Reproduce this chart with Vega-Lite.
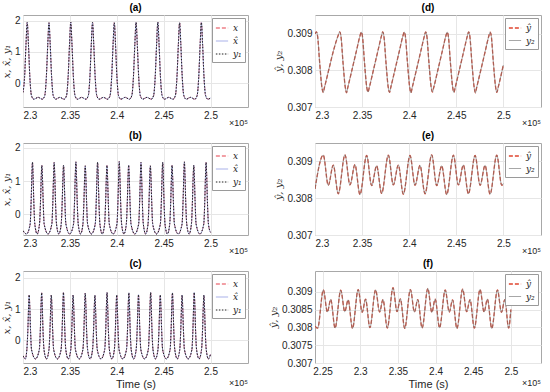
{
"$schema": "https://vega.github.io/schema/vega-lite/v6.json",
"background": "white",
"padding": {"left": 0, "top": 2, "right": 3, "bottom": 1},
"columns": 2,
"spacing": {"row": 1, "column": 18},
"resolve": {"scale": {"color": "independent", "strokeDash": "independent", "strokeWidth": "independent"}},
"datasets": {
"a": [
{"t":230000,"x":-0.3,"xh":-0.3,"y1":-0.3},{"t":230170,"x":0.2,"xh":0.2,"y1":0.2},{"t":230320,"x":1.25,"xh":1.25,"y1":1.25},{"t":230450,"x":1.95,"xh":1.95,"y1":1.95},{"t":230580,"x":1.25,"xh":1.25,"y1":1.25},{"t":230730,"x":0.2,"xh":0.2,"y1":0.2},{"t":230900,"x":-0.4,"xh":-0.4,"y1":-0.4},{"t":231150,"x":-0.52,"xh":-0.52,"y1":-0.52},{"t":231610,"x":-0.46,"xh":-0.46,"y1":-0.46},{"t":232070,"x":-0.52,"xh":-0.52,"y1":-0.52},
{"t":232322,"x":-0.4,"xh":-0.4,"y1":-0.4},{"t":232492,"x":0.2,"xh":0.2,"y1":0.2},{"t":232642,"x":1.25,"xh":1.25,"y1":1.25},{"t":232772,"x":1.94,"xh":1.94,"y1":1.94},{"t":232902,"x":1.25,"xh":1.25,"y1":1.25},{"t":233052,"x":0.2,"xh":0.2,"y1":0.2},{"t":233222,"x":-0.4,"xh":-0.4,"y1":-0.4},{"t":233472,"x":-0.52,"xh":-0.52,"y1":-0.52},{"t":233932,"x":-0.46,"xh":-0.46,"y1":-0.46},{"t":234392,"x":-0.52,"xh":-0.52,"y1":-0.52},
{"t":234644,"x":-0.4,"xh":-0.4,"y1":-0.4},{"t":234814,"x":0.2,"xh":0.2,"y1":0.2},{"t":234964,"x":1.25,"xh":1.25,"y1":1.25},{"t":235094,"x":1.96,"xh":1.96,"y1":1.96},{"t":235224,"x":1.25,"xh":1.25,"y1":1.25},{"t":235374,"x":0.2,"xh":0.2,"y1":0.2},{"t":235544,"x":-0.4,"xh":-0.4,"y1":-0.4},{"t":235794,"x":-0.52,"xh":-0.52,"y1":-0.52},{"t":236254,"x":-0.46,"xh":-0.46,"y1":-0.46},{"t":236714,"x":-0.52,"xh":-0.52,"y1":-0.52},
{"t":236966,"x":-0.4,"xh":-0.4,"y1":-0.4},{"t":237136,"x":0.2,"xh":0.2,"y1":0.2},{"t":237286,"x":1.25,"xh":1.25,"y1":1.25},{"t":237416,"x":1.95,"xh":1.95,"y1":1.95},{"t":237546,"x":1.25,"xh":1.25,"y1":1.25},{"t":237696,"x":0.2,"xh":0.2,"y1":0.2},{"t":237866,"x":-0.4,"xh":-0.4,"y1":-0.4},{"t":238116,"x":-0.52,"xh":-0.52,"y1":-0.52},{"t":238576,"x":-0.46,"xh":-0.46,"y1":-0.46},{"t":239036,"x":-0.52,"xh":-0.52,"y1":-0.52},
{"t":239288,"x":-0.4,"xh":-0.4,"y1":-0.4},{"t":239458,"x":0.2,"xh":0.2,"y1":0.2},{"t":239608,"x":1.25,"xh":1.25,"y1":1.25},{"t":239738,"x":1.94,"xh":1.94,"y1":1.94},{"t":239868,"x":1.25,"xh":1.25,"y1":1.25},{"t":240018,"x":0.2,"xh":0.2,"y1":0.2},{"t":240188,"x":-0.4,"xh":-0.4,"y1":-0.4},{"t":240438,"x":-0.52,"xh":-0.52,"y1":-0.52},{"t":240898,"x":-0.46,"xh":-0.46,"y1":-0.46},{"t":241358,"x":-0.52,"xh":-0.52,"y1":-0.52},
{"t":241610,"x":-0.4,"xh":-0.4,"y1":-0.4},{"t":241780,"x":0.2,"xh":0.2,"y1":0.2},{"t":241930,"x":1.25,"xh":1.25,"y1":1.25},{"t":242060,"x":1.95,"xh":1.95,"y1":1.95},{"t":242190,"x":1.25,"xh":1.25,"y1":1.25},{"t":242340,"x":0.2,"xh":0.2,"y1":0.2},{"t":242510,"x":-0.4,"xh":-0.4,"y1":-0.4},{"t":242760,"x":-0.52,"xh":-0.52,"y1":-0.52},{"t":243220,"x":-0.46,"xh":-0.46,"y1":-0.46},{"t":243680,"x":-0.52,"xh":-0.52,"y1":-0.52},
{"t":243932,"x":-0.4,"xh":-0.4,"y1":-0.4},{"t":244102,"x":0.2,"xh":0.2,"y1":0.2},{"t":244252,"x":1.25,"xh":1.25,"y1":1.25},{"t":244382,"x":1.96,"xh":1.96,"y1":1.96},{"t":244512,"x":1.25,"xh":1.25,"y1":1.25},{"t":244662,"x":0.2,"xh":0.2,"y1":0.2},{"t":244832,"x":-0.4,"xh":-0.4,"y1":-0.4},{"t":245082,"x":-0.52,"xh":-0.52,"y1":-0.52},{"t":245542,"x":-0.46,"xh":-0.46,"y1":-0.46},{"t":246002,"x":-0.52,"xh":-0.52,"y1":-0.52},
{"t":246254,"x":-0.4,"xh":-0.4,"y1":-0.4},{"t":246424,"x":0.2,"xh":0.2,"y1":0.2},{"t":246574,"x":1.25,"xh":1.25,"y1":1.25},{"t":246704,"x":1.94,"xh":1.94,"y1":1.94},{"t":246834,"x":1.25,"xh":1.25,"y1":1.25},{"t":246984,"x":0.2,"xh":0.2,"y1":0.2},{"t":247154,"x":-0.4,"xh":-0.4,"y1":-0.4},{"t":247404,"x":-0.52,"xh":-0.52,"y1":-0.52},{"t":247864,"x":-0.46,"xh":-0.46,"y1":-0.46},{"t":248324,"x":-0.52,"xh":-0.52,"y1":-0.52},
{"t":248576,"x":-0.4,"xh":-0.4,"y1":-0.4},{"t":248746,"x":0.2,"xh":0.2,"y1":0.2},{"t":248896,"x":1.25,"xh":1.25,"y1":1.25},{"t":249026,"x":1.95,"xh":1.95,"y1":1.95},{"t":249156,"x":1.25,"xh":1.25,"y1":1.25},{"t":249306,"x":0.2,"xh":0.2,"y1":0.2},{"t":249476,"x":-0.4,"xh":-0.4,"y1":-0.4},{"t":249726,"x":-0.52,"xh":-0.52,"y1":-0.52},{"t":250000,"x":-0.48,"xh":-0.48,"y1":-0.48}
],
"b": [
{"t":230000,"x":-0.5,"xh":-0.5,"y1":-0.5},{"t":230380,"x":-0.6,"xh":-0.6,"y1":-0.6},
{"t":230760,"x":-0.3,"xh":-0.3,"y1":-0.3},{"t":230870,"x":0.4,"xh":0.4,"y1":0.4},{"t":230950,"x":1.2,"xh":1.2,"y1":1.2},{"t":231010,"x":1.57,"xh":1.57,"y1":1.57},{"t":231070,"x":1.2,"xh":1.2,"y1":1.2},{"t":231150,"x":0.4,"xh":0.4,"y1":0.4},{"t":231260,"x":-0.3,"xh":-0.3,"y1":-0.3},{"t":231510,"x":-0.6,"xh":-0.6,"y1":-0.6},
{"t":231760,"x":-0.3,"xh":-0.3,"y1":-0.3},{"t":231870,"x":0.4,"xh":0.4,"y1":0.4},{"t":231950,"x":1.15,"xh":1.15,"y1":1.15},{"t":232010,"x":1.47,"xh":1.47,"y1":1.47},{"t":232070,"x":1.15,"xh":1.15,"y1":1.15},{"t":232150,"x":0.4,"xh":0.4,"y1":0.4},{"t":232260,"x":-0.3,"xh":-0.3,"y1":-0.3},{"t":232667,"x":-0.6,"xh":-0.6,"y1":-0.6},
{"t":233075,"x":-0.3,"xh":-0.3,"y1":-0.3},{"t":233185,"x":0.4,"xh":0.4,"y1":0.4},{"t":233265,"x":1.2,"xh":1.2,"y1":1.2},{"t":233325,"x":1.56,"xh":1.56,"y1":1.56},{"t":233385,"x":1.2,"xh":1.2,"y1":1.2},{"t":233465,"x":0.4,"xh":0.4,"y1":0.4},{"t":233575,"x":-0.3,"xh":-0.3,"y1":-0.3},{"t":233825,"x":-0.6,"xh":-0.6,"y1":-0.6},
{"t":234075,"x":-0.3,"xh":-0.3,"y1":-0.3},{"t":234185,"x":0.4,"xh":0.4,"y1":0.4},{"t":234265,"x":1.15,"xh":1.15,"y1":1.15},{"t":234325,"x":1.48,"xh":1.48,"y1":1.48},{"t":234385,"x":1.15,"xh":1.15,"y1":1.15},{"t":234465,"x":0.4,"xh":0.4,"y1":0.4},{"t":234575,"x":-0.3,"xh":-0.3,"y1":-0.3},{"t":234982,"x":-0.6,"xh":-0.6,"y1":-0.6},
{"t":235390,"x":-0.3,"xh":-0.3,"y1":-0.3},{"t":235500,"x":0.4,"xh":0.4,"y1":0.4},{"t":235580,"x":1.2,"xh":1.2,"y1":1.2},{"t":235640,"x":1.58,"xh":1.58,"y1":1.58},{"t":235700,"x":1.2,"xh":1.2,"y1":1.2},{"t":235780,"x":0.4,"xh":0.4,"y1":0.4},{"t":235890,"x":-0.3,"xh":-0.3,"y1":-0.3},{"t":236140,"x":-0.6,"xh":-0.6,"y1":-0.6},
{"t":236390,"x":-0.3,"xh":-0.3,"y1":-0.3},{"t":236500,"x":0.4,"xh":0.4,"y1":0.4},{"t":236580,"x":1.15,"xh":1.15,"y1":1.15},{"t":236640,"x":1.46,"xh":1.46,"y1":1.46},{"t":236700,"x":1.15,"xh":1.15,"y1":1.15},{"t":236780,"x":0.4,"xh":0.4,"y1":0.4},{"t":236890,"x":-0.3,"xh":-0.3,"y1":-0.3},{"t":237297,"x":-0.6,"xh":-0.6,"y1":-0.6},
{"t":237705,"x":-0.3,"xh":-0.3,"y1":-0.3},{"t":237815,"x":0.4,"xh":0.4,"y1":0.4},{"t":237895,"x":1.2,"xh":1.2,"y1":1.2},{"t":237955,"x":1.57,"xh":1.57,"y1":1.57},{"t":238015,"x":1.2,"xh":1.2,"y1":1.2},{"t":238095,"x":0.4,"xh":0.4,"y1":0.4},{"t":238205,"x":-0.3,"xh":-0.3,"y1":-0.3},{"t":238455,"x":-0.6,"xh":-0.6,"y1":-0.6},
{"t":238705,"x":-0.3,"xh":-0.3,"y1":-0.3},{"t":238815,"x":0.4,"xh":0.4,"y1":0.4},{"t":238895,"x":1.15,"xh":1.15,"y1":1.15},{"t":238955,"x":1.47,"xh":1.47,"y1":1.47},{"t":239015,"x":1.15,"xh":1.15,"y1":1.15},{"t":239095,"x":0.4,"xh":0.4,"y1":0.4},{"t":239205,"x":-0.3,"xh":-0.3,"y1":-0.3},{"t":239612,"x":-0.6,"xh":-0.6,"y1":-0.6},
{"t":240020,"x":-0.3,"xh":-0.3,"y1":-0.3},{"t":240130,"x":0.4,"xh":0.4,"y1":0.4},{"t":240210,"x":1.2,"xh":1.2,"y1":1.2},{"t":240270,"x":1.59,"xh":1.59,"y1":1.59},{"t":240330,"x":1.2,"xh":1.2,"y1":1.2},{"t":240410,"x":0.4,"xh":0.4,"y1":0.4},{"t":240520,"x":-0.3,"xh":-0.3,"y1":-0.3},{"t":240770,"x":-0.6,"xh":-0.6,"y1":-0.6},
{"t":241020,"x":-0.3,"xh":-0.3,"y1":-0.3},{"t":241130,"x":0.4,"xh":0.4,"y1":0.4},{"t":241210,"x":1.15,"xh":1.15,"y1":1.15},{"t":241270,"x":1.48,"xh":1.48,"y1":1.48},{"t":241330,"x":1.15,"xh":1.15,"y1":1.15},{"t":241410,"x":0.4,"xh":0.4,"y1":0.4},{"t":241520,"x":-0.3,"xh":-0.3,"y1":-0.3},{"t":241927,"x":-0.6,"xh":-0.6,"y1":-0.6},
{"t":242335,"x":-0.3,"xh":-0.3,"y1":-0.3},{"t":242445,"x":0.4,"xh":0.4,"y1":0.4},{"t":242525,"x":1.2,"xh":1.2,"y1":1.2},{"t":242585,"x":1.56,"xh":1.56,"y1":1.56},{"t":242645,"x":1.2,"xh":1.2,"y1":1.2},{"t":242725,"x":0.4,"xh":0.4,"y1":0.4},{"t":242835,"x":-0.3,"xh":-0.3,"y1":-0.3},{"t":243085,"x":-0.6,"xh":-0.6,"y1":-0.6},
{"t":243335,"x":-0.3,"xh":-0.3,"y1":-0.3},{"t":243445,"x":0.4,"xh":0.4,"y1":0.4},{"t":243525,"x":1.15,"xh":1.15,"y1":1.15},{"t":243585,"x":1.46,"xh":1.46,"y1":1.46},{"t":243645,"x":1.15,"xh":1.15,"y1":1.15},{"t":243725,"x":0.4,"xh":0.4,"y1":0.4},{"t":243835,"x":-0.3,"xh":-0.3,"y1":-0.3},{"t":244242,"x":-0.6,"xh":-0.6,"y1":-0.6},
{"t":244650,"x":-0.3,"xh":-0.3,"y1":-0.3},{"t":244760,"x":0.4,"xh":0.4,"y1":0.4},{"t":244840,"x":1.2,"xh":1.2,"y1":1.2},{"t":244900,"x":1.57,"xh":1.57,"y1":1.57},{"t":244960,"x":1.2,"xh":1.2,"y1":1.2},{"t":245040,"x":0.4,"xh":0.4,"y1":0.4},{"t":245150,"x":-0.3,"xh":-0.3,"y1":-0.3},{"t":245400,"x":-0.6,"xh":-0.6,"y1":-0.6},
{"t":245650,"x":-0.3,"xh":-0.3,"y1":-0.3},{"t":245760,"x":0.4,"xh":0.4,"y1":0.4},{"t":245840,"x":1.15,"xh":1.15,"y1":1.15},{"t":245900,"x":1.47,"xh":1.47,"y1":1.47},{"t":245960,"x":1.15,"xh":1.15,"y1":1.15},{"t":246040,"x":0.4,"xh":0.4,"y1":0.4},{"t":246150,"x":-0.3,"xh":-0.3,"y1":-0.3},{"t":246557,"x":-0.6,"xh":-0.6,"y1":-0.6},
{"t":246965,"x":-0.3,"xh":-0.3,"y1":-0.3},{"t":247075,"x":0.4,"xh":0.4,"y1":0.4},{"t":247155,"x":1.2,"xh":1.2,"y1":1.2},{"t":247215,"x":1.58,"xh":1.58,"y1":1.58},{"t":247275,"x":1.2,"xh":1.2,"y1":1.2},{"t":247355,"x":0.4,"xh":0.4,"y1":0.4},{"t":247465,"x":-0.3,"xh":-0.3,"y1":-0.3},{"t":247715,"x":-0.6,"xh":-0.6,"y1":-0.6},
{"t":247965,"x":-0.3,"xh":-0.3,"y1":-0.3},{"t":248075,"x":0.4,"xh":0.4,"y1":0.4},{"t":248155,"x":1.15,"xh":1.15,"y1":1.15},{"t":248215,"x":1.48,"xh":1.48,"y1":1.48},{"t":248275,"x":1.15,"xh":1.15,"y1":1.15},{"t":248355,"x":0.4,"xh":0.4,"y1":0.4},{"t":248465,"x":-0.3,"xh":-0.3,"y1":-0.3},{"t":248872,"x":-0.6,"xh":-0.6,"y1":-0.6},
{"t":249280,"x":-0.3,"xh":-0.3,"y1":-0.3},{"t":249390,"x":0.4,"xh":0.4,"y1":0.4},{"t":249470,"x":1.2,"xh":1.2,"y1":1.2},{"t":249530,"x":1.56,"xh":1.56,"y1":1.56},{"t":249590,"x":1.2,"xh":1.2,"y1":1.2},{"t":249670,"x":0.4,"xh":0.4,"y1":0.4},{"t":249780,"x":-0.3,"xh":-0.3,"y1":-0.3},{"t":250000,"x":-0.55,"xh":-0.55,"y1":-0.55}
],
"c": [
{"t":230000,"x":-0.5,"xh":-0.5,"y1":-0.5},{"t":230250,"x":-0.6,"xh":-0.6,"y1":-0.6},
{"t":230410,"x":-0.3,"xh":-0.3,"y1":-0.3},{"t":230520,"x":0.35,"xh":0.35,"y1":0.35},{"t":230600,"x":1.1,"xh":1.1,"y1":1.1},{"t":230660,"x":1.45,"xh":1.45,"y1":1.45},{"t":230720,"x":1.1,"xh":1.1,"y1":1.1},{"t":230800,"x":0.35,"xh":0.35,"y1":0.35},{"t":230910,"x":-0.3,"xh":-0.3,"y1":-0.3},{"t":231325,"x":-0.6,"xh":-0.6,"y1":-0.6},
{"t":231740,"x":-0.3,"xh":-0.3,"y1":-0.3},{"t":231850,"x":0.35,"xh":0.35,"y1":0.35},{"t":231930,"x":1.15,"xh":1.15,"y1":1.15},{"t":231990,"x":1.52,"xh":1.52,"y1":1.52},{"t":232050,"x":1.15,"xh":1.15,"y1":1.15},{"t":232130,"x":0.35,"xh":0.35,"y1":0.35},{"t":232240,"x":-0.3,"xh":-0.3,"y1":-0.3},{"t":232505,"x":-0.6,"xh":-0.6,"y1":-0.6},
{"t":232770,"x":-0.3,"xh":-0.3,"y1":-0.3},{"t":232880,"x":0.35,"xh":0.35,"y1":0.35},{"t":232960,"x":1.1,"xh":1.1,"y1":1.1},{"t":233020,"x":1.45,"xh":1.45,"y1":1.45},{"t":233080,"x":1.1,"xh":1.1,"y1":1.1},{"t":233160,"x":0.35,"xh":0.35,"y1":0.35},{"t":233270,"x":-0.3,"xh":-0.3,"y1":-0.3},{"t":233668,"x":-0.6,"xh":-0.6,"y1":-0.6},
{"t":234065,"x":-0.3,"xh":-0.3,"y1":-0.3},{"t":234175,"x":0.35,"xh":0.35,"y1":0.35},{"t":234255,"x":1.15,"xh":1.15,"y1":1.15},{"t":234315,"x":1.53,"xh":1.53,"y1":1.53},{"t":234375,"x":1.15,"xh":1.15,"y1":1.15},{"t":234455,"x":0.35,"xh":0.35,"y1":0.35},{"t":234565,"x":-0.3,"xh":-0.3,"y1":-0.3},{"t":234830,"x":-0.6,"xh":-0.6,"y1":-0.6},
{"t":235095,"x":-0.3,"xh":-0.3,"y1":-0.3},{"t":235205,"x":0.35,"xh":0.35,"y1":0.35},{"t":235285,"x":1.1,"xh":1.1,"y1":1.1},{"t":235345,"x":1.45,"xh":1.45,"y1":1.45},{"t":235405,"x":1.1,"xh":1.1,"y1":1.1},{"t":235485,"x":0.35,"xh":0.35,"y1":0.35},{"t":235595,"x":-0.3,"xh":-0.3,"y1":-0.3},{"t":235993,"x":-0.6,"xh":-0.6,"y1":-0.6},
{"t":236390,"x":-0.3,"xh":-0.3,"y1":-0.3},{"t":236500,"x":0.35,"xh":0.35,"y1":0.35},{"t":236580,"x":1.15,"xh":1.15,"y1":1.15},{"t":236640,"x":1.51,"xh":1.51,"y1":1.51},{"t":236700,"x":1.15,"xh":1.15,"y1":1.15},{"t":236780,"x":0.35,"xh":0.35,"y1":0.35},{"t":236890,"x":-0.3,"xh":-0.3,"y1":-0.3},{"t":237155,"x":-0.6,"xh":-0.6,"y1":-0.6},
{"t":237420,"x":-0.3,"xh":-0.3,"y1":-0.3},{"t":237530,"x":0.35,"xh":0.35,"y1":0.35},{"t":237610,"x":1.1,"xh":1.1,"y1":1.1},{"t":237670,"x":1.44,"xh":1.44,"y1":1.44},{"t":237730,"x":1.1,"xh":1.1,"y1":1.1},{"t":237810,"x":0.35,"xh":0.35,"y1":0.35},{"t":237920,"x":-0.3,"xh":-0.3,"y1":-0.3},{"t":238318,"x":-0.6,"xh":-0.6,"y1":-0.6},
{"t":238715,"x":-0.3,"xh":-0.3,"y1":-0.3},{"t":238825,"x":0.35,"xh":0.35,"y1":0.35},{"t":238905,"x":1.15,"xh":1.15,"y1":1.15},{"t":238965,"x":1.53,"xh":1.53,"y1":1.53},{"t":239025,"x":1.15,"xh":1.15,"y1":1.15},{"t":239105,"x":0.35,"xh":0.35,"y1":0.35},{"t":239215,"x":-0.3,"xh":-0.3,"y1":-0.3},{"t":239480,"x":-0.6,"xh":-0.6,"y1":-0.6},
{"t":239745,"x":-0.3,"xh":-0.3,"y1":-0.3},{"t":239855,"x":0.35,"xh":0.35,"y1":0.35},{"t":239935,"x":1.1,"xh":1.1,"y1":1.1},{"t":239995,"x":1.45,"xh":1.45,"y1":1.45},{"t":240055,"x":1.1,"xh":1.1,"y1":1.1},{"t":240135,"x":0.35,"xh":0.35,"y1":0.35},{"t":240245,"x":-0.3,"xh":-0.3,"y1":-0.3},{"t":240643,"x":-0.6,"xh":-0.6,"y1":-0.6},
{"t":241040,"x":-0.3,"xh":-0.3,"y1":-0.3},{"t":241150,"x":0.35,"xh":0.35,"y1":0.35},{"t":241230,"x":1.15,"xh":1.15,"y1":1.15},{"t":241290,"x":1.52,"xh":1.52,"y1":1.52},{"t":241350,"x":1.15,"xh":1.15,"y1":1.15},{"t":241430,"x":0.35,"xh":0.35,"y1":0.35},{"t":241540,"x":-0.3,"xh":-0.3,"y1":-0.3},{"t":241805,"x":-0.6,"xh":-0.6,"y1":-0.6},
{"t":242070,"x":-0.3,"xh":-0.3,"y1":-0.3},{"t":242180,"x":0.35,"xh":0.35,"y1":0.35},{"t":242260,"x":1.1,"xh":1.1,"y1":1.1},{"t":242320,"x":1.46,"xh":1.46,"y1":1.46},{"t":242380,"x":1.1,"xh":1.1,"y1":1.1},{"t":242460,"x":0.35,"xh":0.35,"y1":0.35},{"t":242570,"x":-0.3,"xh":-0.3,"y1":-0.3},{"t":242968,"x":-0.6,"xh":-0.6,"y1":-0.6},
{"t":243365,"x":-0.3,"xh":-0.3,"y1":-0.3},{"t":243475,"x":0.35,"xh":0.35,"y1":0.35},{"t":243555,"x":1.15,"xh":1.15,"y1":1.15},{"t":243615,"x":1.53,"xh":1.53,"y1":1.53},{"t":243675,"x":1.15,"xh":1.15,"y1":1.15},{"t":243755,"x":0.35,"xh":0.35,"y1":0.35},{"t":243865,"x":-0.3,"xh":-0.3,"y1":-0.3},{"t":244130,"x":-0.6,"xh":-0.6,"y1":-0.6},
{"t":244395,"x":-0.3,"xh":-0.3,"y1":-0.3},{"t":244505,"x":0.35,"xh":0.35,"y1":0.35},{"t":244585,"x":1.1,"xh":1.1,"y1":1.1},{"t":244645,"x":1.45,"xh":1.45,"y1":1.45},{"t":244705,"x":1.1,"xh":1.1,"y1":1.1},{"t":244785,"x":0.35,"xh":0.35,"y1":0.35},{"t":244895,"x":-0.3,"xh":-0.3,"y1":-0.3},{"t":245293,"x":-0.6,"xh":-0.6,"y1":-0.6},
{"t":245690,"x":-0.3,"xh":-0.3,"y1":-0.3},{"t":245800,"x":0.35,"xh":0.35,"y1":0.35},{"t":245880,"x":1.15,"xh":1.15,"y1":1.15},{"t":245940,"x":1.52,"xh":1.52,"y1":1.52},{"t":246000,"x":1.15,"xh":1.15,"y1":1.15},{"t":246080,"x":0.35,"xh":0.35,"y1":0.35},{"t":246190,"x":-0.3,"xh":-0.3,"y1":-0.3},{"t":246455,"x":-0.6,"xh":-0.6,"y1":-0.6},
{"t":246720,"x":-0.3,"xh":-0.3,"y1":-0.3},{"t":246830,"x":0.35,"xh":0.35,"y1":0.35},{"t":246910,"x":1.1,"xh":1.1,"y1":1.1},{"t":246970,"x":1.45,"xh":1.45,"y1":1.45},{"t":247030,"x":1.1,"xh":1.1,"y1":1.1},{"t":247110,"x":0.35,"xh":0.35,"y1":0.35},{"t":247220,"x":-0.3,"xh":-0.3,"y1":-0.3},{"t":247618,"x":-0.6,"xh":-0.6,"y1":-0.6},
{"t":248015,"x":-0.3,"xh":-0.3,"y1":-0.3},{"t":248125,"x":0.35,"xh":0.35,"y1":0.35},{"t":248205,"x":1.15,"xh":1.15,"y1":1.15},{"t":248265,"x":1.53,"xh":1.53,"y1":1.53},{"t":248325,"x":1.15,"xh":1.15,"y1":1.15},{"t":248405,"x":0.35,"xh":0.35,"y1":0.35},{"t":248515,"x":-0.3,"xh":-0.3,"y1":-0.3},{"t":248780,"x":-0.6,"xh":-0.6,"y1":-0.6},
{"t":249045,"x":-0.3,"xh":-0.3,"y1":-0.3},{"t":249155,"x":0.35,"xh":0.35,"y1":0.35},{"t":249235,"x":1.1,"xh":1.1,"y1":1.1},{"t":249295,"x":1.45,"xh":1.45,"y1":1.45},{"t":249355,"x":1.1,"xh":1.1,"y1":1.1},{"t":249435,"x":0.35,"xh":0.35,"y1":0.35},{"t":249545,"x":-0.3,"xh":-0.3,"y1":-0.3},{"t":249780,"x":-0.6,"xh":-0.6,"y1":-0.6},{"t":250000,"x":-0.45,"xh":-0.45,"y1":-0.45}
],
"d": [
{"t":230000,"yh":0.30900,"y2":0.30900},{"t":230150,"yh":0.30906,"y2":0.30906},{"t":230270,"yh":0.30895,"y2":0.30895},{"t":230500,"yh":0.30820,"y2":0.30820},{"t":230730,"yh":0.30755,"y2":0.30755},{"t":230870,"yh":0.30740,"y2":0.30740},{"t":230990,"yh":0.30752,"y2":0.30752},{"t":231500,"yh":0.30806,"y2":0.30806},{"t":232000,"yh":0.30858,"y2":0.30858},{"t":232450,"yh":0.30895,"y2":0.30895},
{"t":232630,"yh":0.30906,"y2":0.30906},{"t":232750,"yh":0.30895,"y2":0.30895},{"t":232980,"yh":0.30820,"y2":0.30820},{"t":233210,"yh":0.30755,"y2":0.30755},{"t":233350,"yh":0.30739,"y2":0.30739},{"t":233470,"yh":0.30752,"y2":0.30752},{"t":233930,"yh":0.30802,"y2":0.30802},{"t":234430,"yh":0.30857,"y2":0.30857},{"t":234780,"yh":0.30895,"y2":0.30895},
{"t":234911,"yh":0.30905,"y2":0.30905},{"t":235031,"yh":0.30895,"y2":0.30895},{"t":235261,"yh":0.30820,"y2":0.30820},{"t":235491,"yh":0.30755,"y2":0.30755},{"t":235631,"yh":0.30741,"y2":0.30741},{"t":235751,"yh":0.30752,"y2":0.30752},{"t":236211,"yh":0.30802,"y2":0.30802},{"t":236711,"yh":0.30857,"y2":0.30857},{"t":237061,"yh":0.30895,"y2":0.30895},
{"t":237192,"yh":0.30906,"y2":0.30906},{"t":237312,"yh":0.30895,"y2":0.30895},{"t":237542,"yh":0.30820,"y2":0.30820},{"t":237772,"yh":0.30755,"y2":0.30755},{"t":237912,"yh":0.30740,"y2":0.30740},{"t":238032,"yh":0.30752,"y2":0.30752},{"t":238492,"yh":0.30802,"y2":0.30802},{"t":238992,"yh":0.30857,"y2":0.30857},{"t":239342,"yh":0.30895,"y2":0.30895},
{"t":239473,"yh":0.30905,"y2":0.30905},{"t":239593,"yh":0.30895,"y2":0.30895},{"t":239823,"yh":0.30820,"y2":0.30820},{"t":240053,"yh":0.30755,"y2":0.30755},{"t":240193,"yh":0.30739,"y2":0.30739},{"t":240313,"yh":0.30752,"y2":0.30752},{"t":240773,"yh":0.30802,"y2":0.30802},{"t":241273,"yh":0.30857,"y2":0.30857},{"t":241623,"yh":0.30895,"y2":0.30895},
{"t":241754,"yh":0.30906,"y2":0.30906},{"t":241874,"yh":0.30895,"y2":0.30895},{"t":242104,"yh":0.30820,"y2":0.30820},{"t":242334,"yh":0.30755,"y2":0.30755},{"t":242474,"yh":0.30741,"y2":0.30741},{"t":242594,"yh":0.30752,"y2":0.30752},{"t":243054,"yh":0.30802,"y2":0.30802},{"t":243554,"yh":0.30857,"y2":0.30857},{"t":243904,"yh":0.30895,"y2":0.30895},
{"t":244035,"yh":0.30905,"y2":0.30905},{"t":244155,"yh":0.30895,"y2":0.30895},{"t":244385,"yh":0.30820,"y2":0.30820},{"t":244615,"yh":0.30755,"y2":0.30755},{"t":244755,"yh":0.30740,"y2":0.30740},{"t":244875,"yh":0.30752,"y2":0.30752},{"t":245335,"yh":0.30802,"y2":0.30802},{"t":245835,"yh":0.30857,"y2":0.30857},{"t":246185,"yh":0.30895,"y2":0.30895},
{"t":246316,"yh":0.30906,"y2":0.30906},{"t":246436,"yh":0.30895,"y2":0.30895},{"t":246666,"yh":0.30820,"y2":0.30820},{"t":246896,"yh":0.30755,"y2":0.30755},{"t":247036,"yh":0.30739,"y2":0.30739},{"t":247156,"yh":0.30752,"y2":0.30752},{"t":247616,"yh":0.30802,"y2":0.30802},{"t":248116,"yh":0.30857,"y2":0.30857},{"t":248466,"yh":0.30895,"y2":0.30895},
{"t":248597,"yh":0.30905,"y2":0.30905},{"t":248717,"yh":0.30895,"y2":0.30895},{"t":248947,"yh":0.30820,"y2":0.30820},{"t":249177,"yh":0.30755,"y2":0.30755},{"t":249317,"yh":0.30740,"y2":0.30740},{"t":249437,"yh":0.30752,"y2":0.30752},{"t":250000,"yh":0.30815,"y2":0.30815}
],
"e": [
{"t":230000,"yh":0.30825,"y2":0.30825},
{"t":230880,"yh":0.30917,"y2":0.30917},{"t":231410,"yh":0.30835,"y2":0.30835},{"t":231940,"yh":0.30890,"y2":0.30890},{"t":232470,"yh":0.30812,"y2":0.30812},
{"t":233183,"yh":0.30918,"y2":0.30918},{"t":233713,"yh":0.30836,"y2":0.30836},{"t":234243,"yh":0.30891,"y2":0.30891},{"t":234773,"yh":0.30810,"y2":0.30810},
{"t":235486,"yh":0.30916,"y2":0.30916},{"t":236016,"yh":0.30834,"y2":0.30834},{"t":236546,"yh":0.30888,"y2":0.30888},{"t":237076,"yh":0.30813,"y2":0.30813},
{"t":237789,"yh":0.30917,"y2":0.30917},{"t":238319,"yh":0.30836,"y2":0.30836},{"t":238849,"yh":0.30890,"y2":0.30890},{"t":239379,"yh":0.30811,"y2":0.30811},
{"t":240092,"yh":0.30916,"y2":0.30916},{"t":240622,"yh":0.30835,"y2":0.30835},{"t":241152,"yh":0.30889,"y2":0.30889},{"t":241682,"yh":0.30812,"y2":0.30812},
{"t":242395,"yh":0.30918,"y2":0.30918},{"t":242925,"yh":0.30834,"y2":0.30834},{"t":243455,"yh":0.30888,"y2":0.30888},{"t":243985,"yh":0.30810,"y2":0.30810},
{"t":244698,"yh":0.30917,"y2":0.30917},{"t":245228,"yh":0.30836,"y2":0.30836},{"t":245758,"yh":0.30890,"y2":0.30890},{"t":246288,"yh":0.30812,"y2":0.30812},
{"t":247001,"yh":0.30916,"y2":0.30916},{"t":247531,"yh":0.30835,"y2":0.30835},{"t":248061,"yh":0.30889,"y2":0.30889},{"t":248591,"yh":0.30811,"y2":0.30811},
{"t":249304,"yh":0.30917,"y2":0.30917},{"t":249834,"yh":0.30835,"y2":0.30835},{"t":250000,"yh":0.30840,"y2":0.30840}
],
"f": [
{"t":224000,"yh":0.30803,"y2":0.30803},{"t":224350,"yh":0.30798,"y2":0.30798},
{"t":225111,"yh":0.30905,"y2":0.30905},{"t":225644,"yh":0.30843,"y2":0.30843},{"t":226089,"yh":0.30878,"y2":0.30878},{"t":226666,"yh":0.30798,"y2":0.30798},
{"t":227422,"yh":0.30904,"y2":0.30904},{"t":227955,"yh":0.30844,"y2":0.30844},{"t":228400,"yh":0.30877,"y2":0.30877},{"t":228977,"yh":0.30797,"y2":0.30797},
{"t":229733,"yh":0.30906,"y2":0.30906},{"t":230266,"yh":0.30842,"y2":0.30842},{"t":230711,"yh":0.30879,"y2":0.30879},{"t":231288,"yh":0.30799,"y2":0.30799},
{"t":232044,"yh":0.30905,"y2":0.30905},{"t":232577,"yh":0.30843,"y2":0.30843},{"t":233022,"yh":0.30878,"y2":0.30878},{"t":233599,"yh":0.30798,"y2":0.30798},
{"t":234355,"yh":0.30911,"y2":0.30911},{"t":234888,"yh":0.30844,"y2":0.30844},{"t":235333,"yh":0.30880,"y2":0.30880},{"t":235910,"yh":0.30797,"y2":0.30797},
{"t":236666,"yh":0.30906,"y2":0.30906},{"t":237199,"yh":0.30843,"y2":0.30843},{"t":237644,"yh":0.30878,"y2":0.30878},{"t":238221,"yh":0.30798,"y2":0.30798},
{"t":238977,"yh":0.30909,"y2":0.30909},{"t":239510,"yh":0.30842,"y2":0.30842},{"t":239955,"yh":0.30879,"y2":0.30879},{"t":240532,"yh":0.30799,"y2":0.30799},
{"t":241288,"yh":0.30905,"y2":0.30905},{"t":241821,"yh":0.30843,"y2":0.30843},{"t":242266,"yh":0.30877,"y2":0.30877},{"t":242843,"yh":0.30797,"y2":0.30797},
{"t":243599,"yh":0.30907,"y2":0.30907},{"t":244132,"yh":0.30844,"y2":0.30844},{"t":244577,"yh":0.30878,"y2":0.30878},{"t":245154,"yh":0.30798,"y2":0.30798},
{"t":245910,"yh":0.30906,"y2":0.30906},{"t":246443,"yh":0.30843,"y2":0.30843},{"t":246888,"yh":0.30879,"y2":0.30879},{"t":247465,"yh":0.30797,"y2":0.30797},
{"t":248221,"yh":0.30905,"y2":0.30905},{"t":248754,"yh":0.30842,"y2":0.30842},{"t":249199,"yh":0.30878,"y2":0.30878},{"t":249700,"yh":0.30798,"y2":0.30798},{"t":250000,"yh":0.30850,"y2":0.30850}
],
"one": [{}]
},
"concat": [
 {"title": "(a)", "width": 225, "height": 92, "layer": [
  {"data": {"name": "a"}, "transform": [{"fold": ["x","xh","y1"], "as": ["s","v"]}],
   "mark": {"type": "line", "clip": true, "interpolate": "monotone", "strokeWidth": 1},
   "encoding": {
    "x": {"field": "t", "type": "quantitative", "scale": {"domain": [230000, 254000], "nice": false, "zero": false}, "axis": {"values": [230000,235000,240000,245000,250000], "tickCount": 6, "labelExpr": "format(datum.value / 100000, '~g')", "title": null}},
    "y": {"field": "v", "type": "quantitative", "scale": {"domain": [-0.77, 2.19], "nice": false, "zero": false}, "axis": {"values": [0,1,2], "tickCount": 5, "format": "~g", "title": "x, x̂, y₁"}},
    "color": {"field": "s", "type": "nominal", "scale": {"domain": ["x","xh","y1"], "range": ["#e5404c","#aab2ea","#1e1e1e"]}, "legend": {"title": null, "labelExpr": "datum.label == 'xh' ? 'x̂' : datum.label == 'y1' ? 'y₁' : datum.label"}},
    "strokeDash": {"field": "s", "type": "nominal", "scale": {"domain": ["x","xh","y1"], "range": [[4,2],[1,0],[1.5,1.5]]}, "legend": {"title": null, "labelExpr": "datum.label == 'xh' ? 'x̂' : datum.label == 'y1' ? 'y₁' : datum.label"}}
   }},
  {"data": {"name": "one"}, "mark": {"type": "text", "align": "right", "baseline": "top", "dy": 12, "fontSize": 9, "color": "#262626"},
   "encoding": {"x": {"datum": 254000}, "y": {"datum": -0.77}, "text": {"value": "×10⁵"}}}
 ]},
 {"title": "(d)", "width": 226, "height": 92, "layer": [
  {"data": {"name": "d"}, "transform": [{"fold": ["yh","y2"], "as": ["s","v"]}],
   "mark": {"type": "line", "clip": true, "interpolate": "monotone"},
   "encoding": {
    "x": {"field": "t", "type": "quantitative", "scale": {"domain": [230000, 254000], "nice": false, "zero": false}, "axis": {"values": [230000,235000,240000,245000,250000], "tickCount": 6, "labelExpr": "format(datum.value / 100000, '~g')", "title": null}},
    "y": {"field": "v", "type": "quantitative", "scale": {"domain": [0.307, 0.30952], "nice": false, "zero": false}, "axis": {"values": [0.307,0.308,0.309], "tickCount": 5, "format": "~g", "title": "ŷ, y₂"}},
    "color": {"field": "s", "type": "nominal", "scale": {"domain": ["yh","y2"], "range": ["#e0452f","#777777"]}, "legend": {"title": null, "labelExpr": "datum.label == 'yh' ? 'ŷ' : 'y₂'"}},
    "strokeDash": {"field": "s", "type": "nominal", "scale": {"domain": ["yh","y2"], "range": [[4,2],[1,0]]}, "legend": {"title": null, "labelExpr": "datum.label == 'yh' ? 'ŷ' : 'y₂'"}},
    "strokeWidth": {"field": "s", "type": "nominal", "scale": {"domain": ["yh","y2"], "range": [1.3, 0.7]}, "legend": null}
   }},
  {"data": {"name": "one"}, "mark": {"type": "text", "align": "right", "baseline": "top", "dy": 12, "fontSize": 9, "color": "#262626"},
   "encoding": {"x": {"datum": 254000}, "y": {"datum": 0.307}, "text": {"value": "×10⁵"}}}
 ]},
 {"title": "(b)", "width": 225, "height": 92, "layer": [
  {"data": {"name": "b"}, "transform": [{"fold": ["x","xh","y1"], "as": ["s","v"]}],
   "mark": {"type": "line", "clip": true, "interpolate": "monotone", "strokeWidth": 1},
   "encoding": {
    "x": {"field": "t", "type": "quantitative", "scale": {"domain": [230000, 254000], "nice": false, "zero": false}, "axis": {"values": [230000,235000,240000,245000,250000], "tickCount": 6, "labelExpr": "format(datum.value / 100000, '~g')", "title": null}},
    "y": {"field": "v", "type": "quantitative", "scale": {"domain": [-0.63, 2.15], "nice": false, "zero": false}, "axis": {"values": [0,1,2], "tickCount": 5, "format": "~g", "title": "x, x̂, y₁"}},
    "color": {"field": "s", "type": "nominal", "scale": {"domain": ["x","xh","y1"], "range": ["#e5404c","#aab2ea","#1e1e1e"]}, "legend": {"title": null, "labelExpr": "datum.label == 'xh' ? 'x̂' : datum.label == 'y1' ? 'y₁' : datum.label"}},
    "strokeDash": {"field": "s", "type": "nominal", "scale": {"domain": ["x","xh","y1"], "range": [[4,2],[1,0],[1.5,1.5]]}, "legend": {"title": null, "labelExpr": "datum.label == 'xh' ? 'x̂' : datum.label == 'y1' ? 'y₁' : datum.label"}}
   }},
  {"data": {"name": "one"}, "mark": {"type": "text", "align": "right", "baseline": "top", "dy": 12, "fontSize": 9, "color": "#262626"},
   "encoding": {"x": {"datum": 254000}, "y": {"datum": -0.63}, "text": {"value": "×10⁵"}}}
 ]},
 {"title": "(e)", "width": 226, "height": 92, "layer": [
  {"data": {"name": "e"}, "transform": [{"fold": ["yh","y2"], "as": ["s","v"]}],
   "mark": {"type": "line", "clip": true, "interpolate": "monotone"},
   "encoding": {
    "x": {"field": "t", "type": "quantitative", "scale": {"domain": [230000, 254000], "nice": false, "zero": false}, "axis": {"values": [230000,235000,240000,245000,250000], "tickCount": 6, "labelExpr": "format(datum.value / 100000, '~g')", "title": null}},
    "y": {"field": "v", "type": "quantitative", "scale": {"domain": [0.307, 0.3095], "nice": false, "zero": false}, "axis": {"values": [0.307,0.308,0.309], "tickCount": 5, "format": "~g", "title": "ŷ, y₂"}},
    "color": {"field": "s", "type": "nominal", "scale": {"domain": ["yh","y2"], "range": ["#e0452f","#777777"]}, "legend": {"title": null, "labelExpr": "datum.label == 'yh' ? 'ŷ' : 'y₂'"}},
    "strokeDash": {"field": "s", "type": "nominal", "scale": {"domain": ["yh","y2"], "range": [[4,2],[1,0]]}, "legend": {"title": null, "labelExpr": "datum.label == 'yh' ? 'ŷ' : 'y₂'"}},
    "strokeWidth": {"field": "s", "type": "nominal", "scale": {"domain": ["yh","y2"], "range": [1.3, 0.7]}, "legend": null}
   }},
  {"data": {"name": "one"}, "mark": {"type": "text", "align": "right", "baseline": "top", "dy": 12, "fontSize": 9, "color": "#262626"},
   "encoding": {"x": {"datum": 254000}, "y": {"datum": 0.307}, "text": {"value": "×10⁵"}}}
 ]},
 {"title": "(c)", "width": 225, "height": 92, "layer": [
  {"data": {"name": "c"}, "transform": [{"fold": ["x","xh","y1"], "as": ["s","v"]}],
   "mark": {"type": "line", "clip": true, "interpolate": "monotone", "strokeWidth": 1},
   "encoding": {
    "x": {"field": "t", "type": "quantitative", "scale": {"domain": [230000, 254000], "nice": false, "zero": false}, "axis": {"values": [230000,235000,240000,245000,250000], "tickCount": 6, "labelExpr": "format(datum.value / 100000, '~g')", "title": "Time (s)", "titleFont": "Liberation Sans", "titleFontStyle": "normal", "titleFontSize": 11, "titlePadding": 2}},
    "y": {"field": "v", "type": "quantitative", "scale": {"domain": [-0.73, 2.22], "nice": false, "zero": false}, "axis": {"values": [0,1,2], "tickCount": 5, "format": "~g", "title": "x, x̂, y₁"}},
    "color": {"field": "s", "type": "nominal", "scale": {"domain": ["x","xh","y1"], "range": ["#e5404c","#aab2ea","#1e1e1e"]}, "legend": {"title": null, "labelExpr": "datum.label == 'xh' ? 'x̂' : datum.label == 'y1' ? 'y₁' : datum.label"}},
    "strokeDash": {"field": "s", "type": "nominal", "scale": {"domain": ["x","xh","y1"], "range": [[4,2],[1,0],[1.5,1.5]]}, "legend": {"title": null, "labelExpr": "datum.label == 'xh' ? 'x̂' : datum.label == 'y1' ? 'y₁' : datum.label"}}
   }},
  {"data": {"name": "one"}, "mark": {"type": "text", "align": "right", "baseline": "top", "dy": 16, "fontSize": 9, "color": "#262626"},
   "encoding": {"x": {"datum": 254000}, "y": {"datum": -0.73}, "text": {"value": "×10⁵"}}}
 ]},
 {"title": "(f)", "width": 226, "height": 92, "layer": [
  {"data": {"name": "f"}, "transform": [{"fold": ["yh","y2"], "as": ["s","v"]}],
   "mark": {"type": "line", "clip": true, "interpolate": "monotone"},
   "encoding": {
    "x": {"field": "t", "type": "quantitative", "scale": {"domain": [224000, 254000], "nice": false, "zero": false}, "axis": {"values": [225000,230000,235000,240000,245000,250000], "tickCount": 8, "labelExpr": "format(datum.value / 100000, '~g')", "title": "Time (s)", "titleFont": "Liberation Sans", "titleFontStyle": "normal", "titleFontSize": 11, "titlePadding": 2}},
    "y": {"field": "v", "type": "quantitative", "scale": {"domain": [0.307, 0.30958], "nice": false, "zero": false}, "axis": {"values": [0.307,0.3075,0.308,0.3085,0.309], "tickCount": 8, "format": "~g", "labelOverlap": false, "title": "ŷ, y₂"}},
    "color": {"field": "s", "type": "nominal", "scale": {"domain": ["yh","y2"], "range": ["#e0452f","#777777"]}, "legend": {"title": null, "labelExpr": "datum.label == 'yh' ? 'ŷ' : 'y₂'"}},
    "strokeDash": {"field": "s", "type": "nominal", "scale": {"domain": ["yh","y2"], "range": [[4,2],[1,0]]}, "legend": {"title": null, "labelExpr": "datum.label == 'yh' ? 'ŷ' : 'y₂'"}},
    "strokeWidth": {"field": "s", "type": "nominal", "scale": {"domain": ["yh","y2"], "range": [1.3, 0.7]}, "legend": null}
   }},
  {"data": {"name": "one"}, "mark": {"type": "text", "align": "right", "baseline": "top", "dy": 16, "fontSize": 9, "color": "#262626"},
   "encoding": {"x": {"datum": 254000}, "y": {"datum": 0.307}, "text": {"value": "×10⁵"}}}
 ]}
],
"config": {
 "font": "Liberation Sans",
 "view": {"stroke": "#a8a8a8", "strokeWidth": 1},
 "axis": {"grid": true, "gridColor": "#e6e6e6", "gridWidth": 1, "domain": false, "ticks": false, "tickSize": 0, "labelOverlap": false, "labelFont": "Liberation Sans", "labelFontSize": 10, "labelColor": "#262626", "labelPadding": 3, "titleFont": "DejaVu Serif", "titleFontStyle": "italic", "titleFontWeight": "normal", "titleFontSize": 10, "titleColor": "#262626", "titlePadding": 3},
 "title": {"font": "Liberation Sans", "fontSize": 10, "fontWeight": "bold", "color": "#000000", "offset": 2},
 "legend": {"orient": "top-right", "offset": 3, "fillColor": "#ffffff", "strokeColor": "#9a9a9a", "padding": 3, "symbolType": "stroke", "symbolSize": 150, "symbolStrokeWidth": 1.2, "labelFont": "DejaVu Serif", "labelFontStyle": "italic", "labelFontSize": 9, "labelColor": "#222222", "rowPadding": 1, "labelOffset": 4, "cornerRadius": 0}
}
}
